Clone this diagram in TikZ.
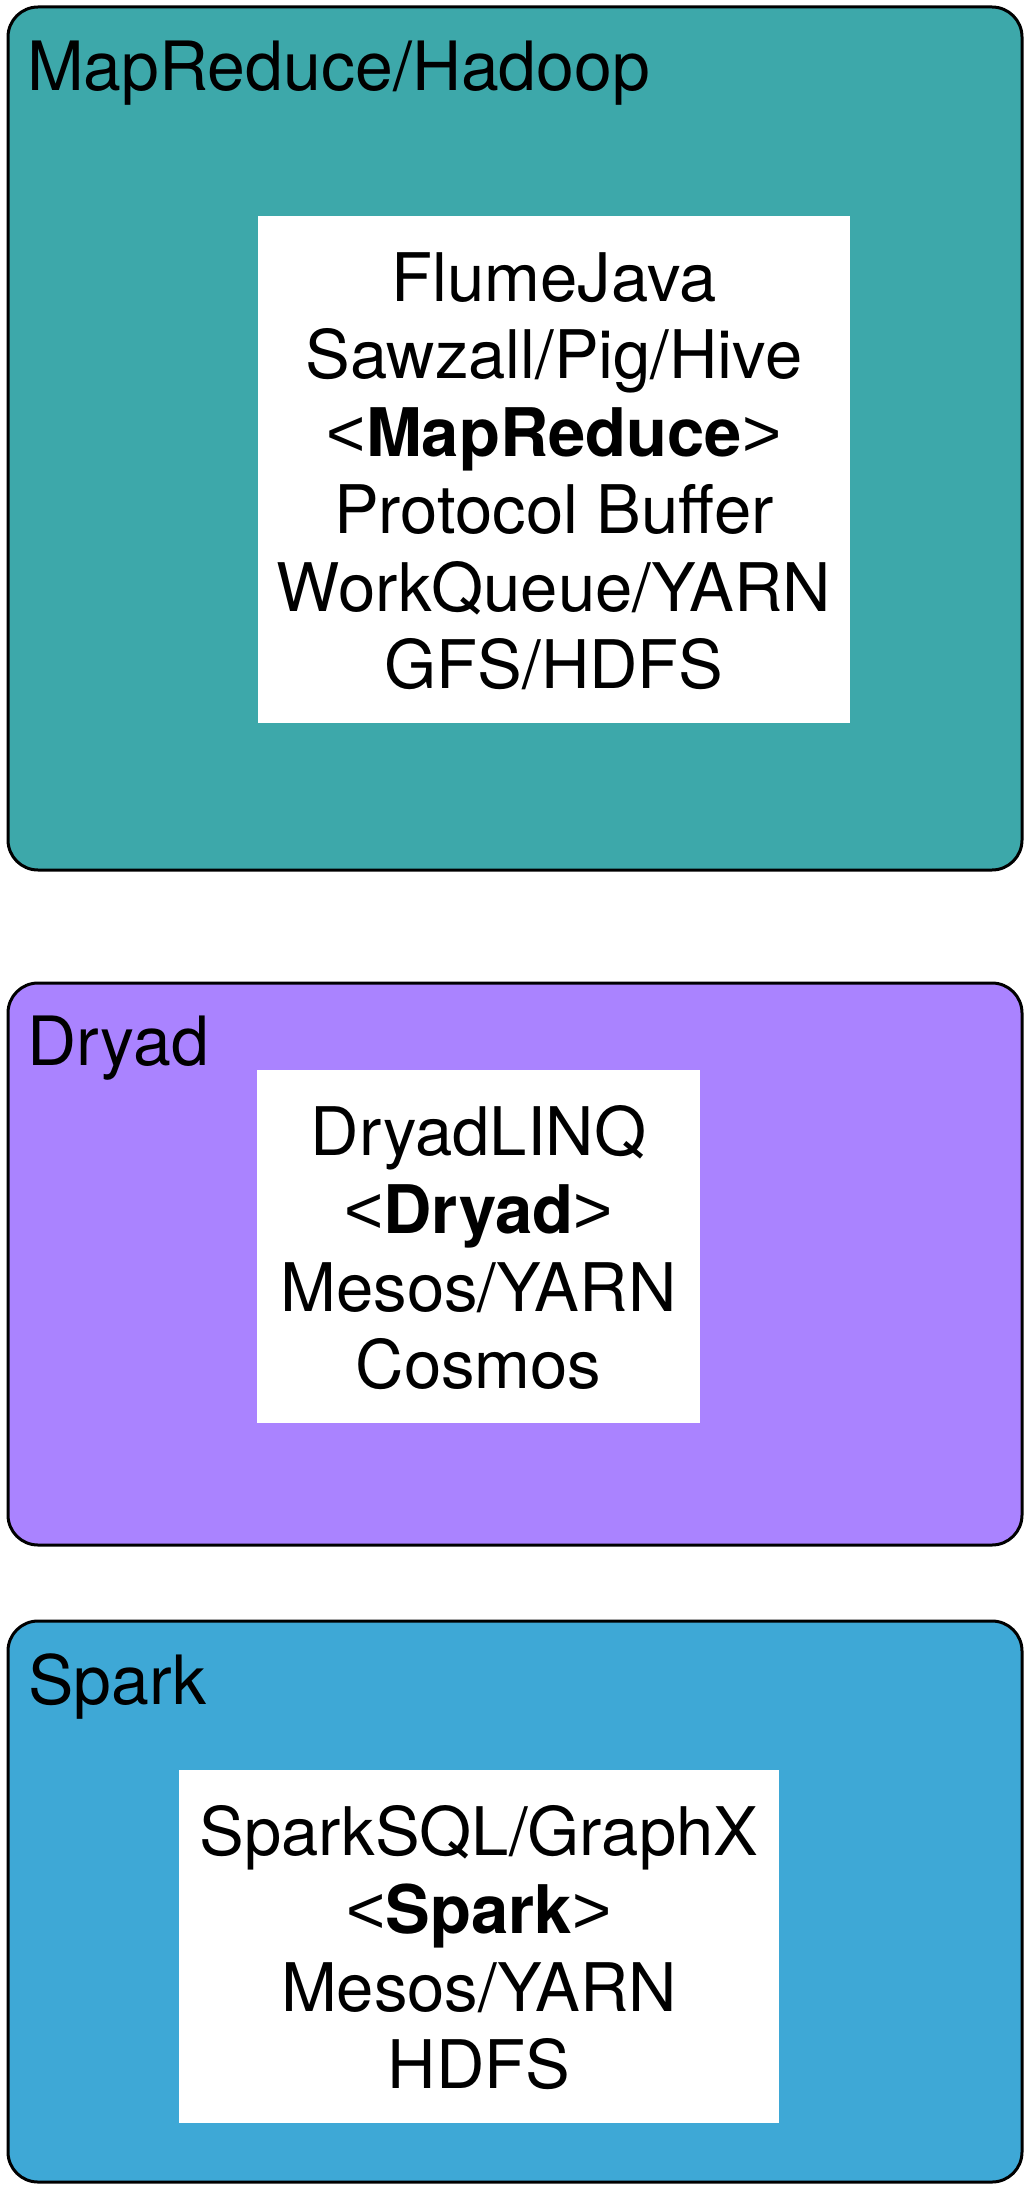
\documentclass[tikz,border=0pt]{standalone}
\usepackage{fontspec}
\setmainfont{TeX Gyre Heros}
\newfontfamily\brk{Liberation Sans}
\newcommand{\lt}{{\brk <}}
\newcommand{\gt}{{\brk >}}
\definecolor{mrteal}{RGB}{61,168,170}
\definecolor{drpurple}{RGB}{170,131,255}
\definecolor{spblue}{RGB}{62,168,214}
\begin{document}
\begin{tikzpicture}[x=1pt,y=-1pt,
  frame/.style={draw=black, line width=3pt, rounded corners=30pt, rectangle,
    inner sep=0pt, outer sep=0pt, anchor=north west},
  whitebox/.style={fill=white, draw=none, rectangle, inner sep=0pt, outer sep=0pt, anchor=north west},
  txt/.style={anchor=base, inner sep=0pt, font=\fontsize{67}{77}\selectfont},
  ttl/.style={anchor=base west, inner sep=0pt, font=\fontsize{68}{77}\selectfont}]
\useasboundingbox (0,0) rectangle (1029,2191);

% MapReduce / Hadoop
\node[frame, fill=mrteal, minimum width=1014pt, minimum height=863pt] (mr) at (8,7) {};
\node[ttl] (mrtitle) at (27,91) {MapReduce/Hadoop};
\node[whitebox, minimum width=592pt, minimum height=507pt] (mrw) at (258,216) {};
\node[txt] (mr1) at (554,301) {FlumeJava};
\node[txt] (mr2) at (554,378.5) {Sawzall/Pig/Hive};
\node[txt] (mr3) at (554,456) {\lt\textbf{MapReduce}\gt};
\node[txt] (mr4) at (554,533.5) {Protocol Buffer};
\node[txt] (mr5) at (554,611) {WorkQueue/YARN};
\node[txt] (mr6) at (554,688) {GFS/HDFS};

% Dryad
\node[frame, fill=drpurple, minimum width=1014pt, minimum height=562pt] (dr) at (8,983) {};
\node[ttl] (drtitle) at (27,1065) {Dryad};
\node[whitebox, minimum width=443pt, minimum height=353pt] (drw) at (257,1070) {};
\node[txt] (dr1) at (478.5,1155) {DryadLINQ};
\node[txt] (dr2) at (478.5,1233) {\lt\textbf{Dryad}\gt};
\node[txt] (dr3) at (478.5,1311) {Mesos/YARN};
\node[txt] (dr4) at (478.5,1388) {Cosmos};

% Spark
\node[frame, fill=spblue, minimum width=1014pt, minimum height=561pt] (sp) at (8,1621) {};
\node[ttl] (sptitle) at (28,1704) {Spark};
\node[whitebox, minimum width=600pt, minimum height=353pt] (spw) at (179,1770) {};
\node[txt] (sp1) at (479,1855) {SparkSQL/GraphX};
\node[txt] (sp2) at (479,1933) {\lt\textbf{Spark}\gt};
\node[txt] (sp3) at (479,2011) {Mesos/YARN};
\node[txt] (sp4) at (479,2088) {HDFS};
\end{tikzpicture}
\end{document}
